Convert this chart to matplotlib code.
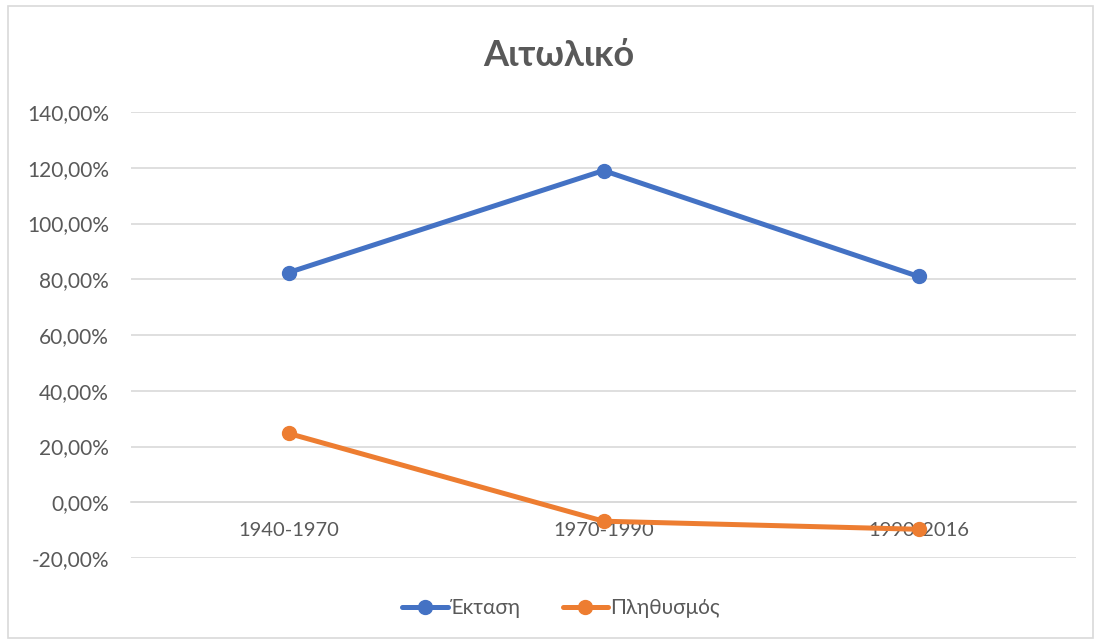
import matplotlib.pyplot as plt
from matplotlib.patches import Rectangle
from matplotlib.ticker import FixedLocator, FuncFormatter

plt.rcParams['font.family'] = ['Lato', 'DejaVu Sans']

periods = ['1940-1970', '1970-1990', '1990-2016']
ektasi = [0.824, 1.190, 0.810]
plithysmos = [0.247, -0.068, -0.097]
yticks = [-0.2, 0.0, 0.2, 0.4, 0.6, 0.8, 1.0, 1.2, 1.4]

blue = '#4472C4'
orange = '#ED7D31'
grey_text = '#595959'
grid = '#D9D9D9'

fig = plt.figure(figsize=(10.99, 6.44), dpi=100)
ax = fig.add_axes([131 / 1099, 1 - 558 / 644, (1076 - 131) / 1099, (558 - 112) / 644])

# chart border
fig.patches.append(Rectangle((8 / 1099, 6 / 644), 1085 / 1099, 632 / 644,
                             transform=fig.transFigure, fill=False,
                             edgecolor='#D9D9D9', linewidth=1.2))

x = list(range(len(periods)))
ax.plot(x, ektasi, color=blue, lw=3.6, marker='o', ms=10, label='Έκταση',
        solid_capstyle='round', zorder=3)
ax.plot(x, plithysmos, color=orange, lw=3.6, marker='o', ms=10, label='Πληθυσμός',
        solid_capstyle='round', zorder=3)

ax.set_xlim(-0.5, 2.5)
ax.set_ylim(-0.2, 1.4)
ax.yaxis.set_major_locator(FixedLocator(yticks))
ax.yaxis.set_major_formatter(FuncFormatter(lambda v, p: f'{v * 100:.2f}%'.replace('.', ',')))
ax.set_xticks(x)
ax.set_xticklabels(periods)

ax.grid(axis='y', color=grid, lw=1.2)
ax.set_axisbelow(True)
for s in ['top', 'right', 'left']:
    ax.spines[s].set_visible(False)
ax.spines['bottom'].set_position(('data', 0))
ax.spines['bottom'].set_color(grid)
ax.spines['bottom'].set_linewidth(1.2)

ax.tick_params(axis='y', length=0, pad=16, labelsize=15, labelcolor=grey_text)
ax.tick_params(axis='x', length=0, pad=14, labelsize=14.5, labelcolor=grey_text)

fig.text(559 / 1099, 1 - 55 / 644, 'Αιτωλικό', ha='center', va='center',
         fontsize=26, fontweight='bold', color=grey_text)

leg = fig.legend(loc='center', bbox_to_anchor=(561 / 1099, 1 - 608 / 644), ncol=2,
                 frameon=False, fontsize=15, handlelength=2.2, handletextpad=0.1,
                 columnspacing=2.0)
for t in leg.get_texts():
    t.set_color(grey_text)

fig.savefig('out.png', dpi=100)
